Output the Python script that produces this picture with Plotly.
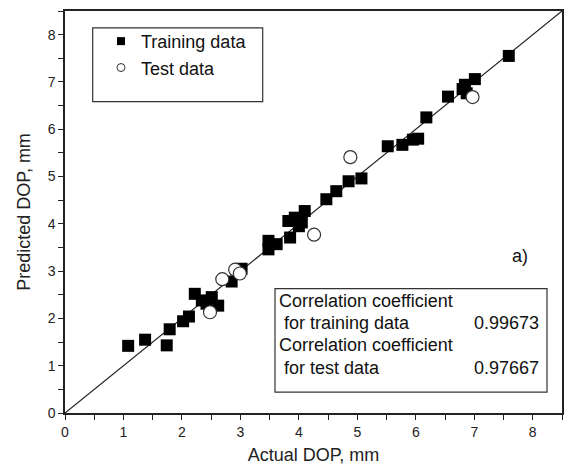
import plotly.graph_objects as go

# Training data (actual, predicted)
train_actual = [1.08, 1.37, 1.74, 1.79, 2.02, 2.12, 2.22, 2.34, 2.42, 2.51, 2.62, 2.85,
                3.02, 3.48, 3.48, 3.62, 3.85, 3.82, 3.93, 4.05, 4.00, 4.10, 4.47, 4.64,
                4.85, 5.07, 5.52, 5.77, 5.95, 6.04, 6.18, 6.55, 6.84, 6.80, 6.87, 7.01, 7.59]
train_pred = [1.42, 1.55, 1.43, 1.77, 1.94, 2.04, 2.52, 2.38, 2.31, 2.45, 2.27, 2.78,
              3.05, 3.64, 3.46, 3.57, 3.71, 4.06, 4.13, 4.03, 3.95, 4.27, 4.52, 4.69,
              4.90, 4.96, 5.64, 5.67, 5.78, 5.80, 6.25, 6.69, 6.94, 6.85, 6.76, 7.06, 7.55]

# Test data (actual, predicted)
test_actual = [2.48, 2.69, 2.91, 2.99, 4.26, 4.88, 6.97]
test_pred = [2.13, 2.83, 3.03, 2.95, 3.77, 5.41, 6.68]

# Ideal y = x line
ideal_line = [0, 8.5]

x_ticks = [0, 1, 2, 3, 4, 5, 6, 7, 8]
y_ticks = [0, 1, 2, 3, 4, 5, 6, 7, 8]

corr_labels = ["Correlation coefficient", " for training data",
               "Correlation coefficient", " for test data"]
corr_values = ["", "0.99673", "", "0.97667"]

FONT = "Liberation Sans, Arial, sans-serif"
TXT = 18

fig = go.Figure()
fig.add_trace(go.Scatter(x=ideal_line, y=ideal_line, mode="lines",
                         line=dict(color="#222", width=1.2), showlegend=False,
                         hoverinfo="skip"))
fig.add_trace(go.Scatter(x=train_actual, y=train_pred, mode="markers",
                         name="Training data", showlegend=False,
                         marker=dict(symbol="square", size=12, color="black",
                                     line=dict(width=0))))
fig.add_trace(go.Scatter(x=test_actual, y=test_pred, mode="markers",
                         name="Test data", showlegend=False,
                         marker=dict(symbol="circle", size=13, color="white",
                                     line=dict(width=1.2, color="#333"))))
# Legend entries with small symbols (as in the reference legend)
fig.add_trace(go.Scatter(x=[None], y=[None], mode="markers", name="Training data",
                         marker=dict(symbol="square", size=8, color="black",
                                     line=dict(width=0))))
fig.add_trace(go.Scatter(x=[None], y=[None], mode="markers", name="Test data",
                         marker=dict(symbol="circle", size=8, color="white",
                                     line=dict(width=1, color="#333"))))

axis_common = dict(
    showgrid=False, zeroline=False, showline=True, linecolor="#222", linewidth=1.5,
    mirror=True, ticks="outside", ticklen=5, tickwidth=1.2, tickcolor="#222",
    tickfont=dict(size=14, color="#222", family=FONT),
    minor=dict(dtick=0.5, ticks="outside", ticklen=5, tickwidth=1.2, tickcolor="#222"),
)

fig.update_xaxes(range=[0, 8.5], tickvals=x_ticks, ticktext=[str(v) for v in x_ticks],
                 title=dict(text="Actual DOP, mm", font=dict(size=TXT, color="#222", family=FONT),
                            standoff=10),
                 **axis_common)
fig.update_yaxes(range=[0, 8.5], tickvals=y_ticks, ticktext=[str(v) for v in y_ticks],
                 title=dict(text="Predicted DOP, mm", font=dict(size=TXT, color="#222", family=FONT),
                            standoff=12),
                 **axis_common)

# Legend box
fig.add_shape(type="rect", xref="paper", yref="paper",
              x0=(92.7 - 65) / 497, x1=(262.7 - 65) / 497,
              y0=(413 - 100) / 404, y1=(413 - 26) / 404,
              line=dict(color="#333", width=1.2), fillcolor="rgba(0,0,0,0)")

# Correlation box
fig.add_shape(type="rect", xref="paper", yref="paper",
              x0=(275 - 65) / 497, x1=(547 - 65) / 497,
              y0=(413 - 392) / 404, y1=(413 - 288) / 404,
              line=dict(color="#333", width=1.2), fillcolor="white")

line_y = [300, 323, 345, 368]
for lbl, val, py in zip(corr_labels, corr_values, line_y):
    fig.add_annotation(xref="paper", yref="paper", x=(277 - 65) / 497,
                       y=(413 - py) / 404,
                       text=lbl.replace(" ", "&nbsp;", 1) if lbl.startswith(" ") else lbl,
                       showarrow=False, xanchor="left", yanchor="middle",
                       font=dict(size=TXT, color="#111", family=FONT))
    if val:
        fig.add_annotation(xref="paper", yref="paper", x=(541 - 65) / 497,
                           y=(413 - py) / 404, text=val, showarrow=False,
                           xanchor="right", yanchor="middle",
                           font=dict(size=TXT, color="#111", family=FONT))

fig.add_annotation(xref="paper", yref="paper", x=(520 - 65) / 497, y=(413 - 255) / 404,
                   text="a)", showarrow=False, xanchor="center", yanchor="middle",
                   font=dict(size=TXT, color="#111", family=FONT))

fig.update_layout(
    width=574, height=474,
    margin=dict(l=65, r=12, t=9, b=61),
    paper_bgcolor="white", plot_bgcolor="white",
    font=dict(family=FONT, color="#111"),
    legend=dict(x=(101 - 65) / 497, y=(413 - 21) / 404, xanchor="left", yanchor="top",
                bgcolor="rgba(0,0,0,0)", borderwidth=0,
                font=dict(size=TXT, color="#111", family=FONT), tracegroupgap=0),
)

fig.write_html("out.html")
